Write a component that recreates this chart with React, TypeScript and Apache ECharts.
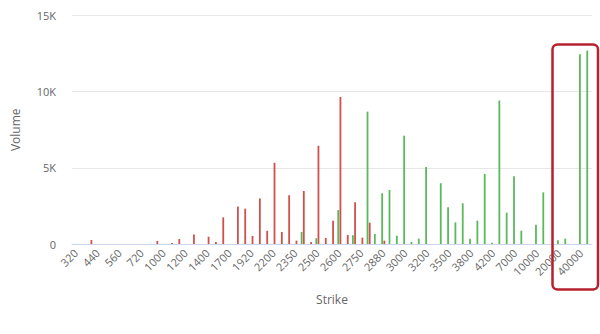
import React, { useEffect, useRef } from "react";
import * as echarts from "echarts";

const strikes = [
  "320", "360", "400", "440", "480", "520", "560", "600", "640", "720",
  "800", "900", "1000", "1100", "1150", "1200", "1300", "1350", "1400", "1500",
  "1600", "1700", "1800", "1900", "1920", "2000", "2100", "2200", "2250", "2300",
  "2350", "2400", "2450", "2500", "2550", "2580", "2600", "2650", "2700", "2750",
  "2800", "2850", "2880", "2900", "2950", "3000", "3100", "3150", "3200", "3300",
  "3400", "3500", "3600", "3700", "3800", "4000", "4100", "4200", "5000", "6000",
  "7000", "8000", "9000", "10000", "12000", "15000", "20000", "25000", "30000", "40000",
  "50000",
];

const callsVolume = [
  0, 0, 0, 0, 0, 0, 0, 0, 0, 0,
  0, 0, 0, 0, 0, 0, 0, 0, 0, 0,
  0, 0, 0, 0, 0, 0, 0, 0, 0, 0,
  0, 790, 0, 380, 0, 0, 2230, 0, 580, 0,
  8690, 660, 3330, 3550, 545, 7110, 130, 350, 5060, 0,
  3990, 2410, 1420, 2670, 350, 1530, 4600, 80, 9420, 2060,
  4440, 875, 0, 1270, 3390, 0, 240, 350, 0, 12460,
  12700,
];

const putsVolume = [
  0, 0, 260, 0, 0, 0, 0, 0, 0, 0,
  0, 200, 0, 65, 330, 0, 620, 0, 480, 130,
  1750, 0, 2460, 2320, 530, 2990, 870, 5330, 790, 3200,
  220, 3480, 130, 6450, 400, 1520, 9650, 590, 2740, 415,
  1400, 0, 220, 0, 0, 0, 0, 0, 0, 0,
  0, 0, 0, 0, 0, 0, 0, 0, 0, 0,
  0, 0, 0, 0, 0, 0, 0, 0, 0, 0,
  0,
];

const yTicks = { min: 0, max: 15000, interval: 5000 };

export default function App() {
  const ref = useRef<HTMLDivElement>(null);
  useEffect(() => {
    if (!ref.current) return;
    const chart = echarts.init(ref.current, null, { renderer: "svg" });
    const font = "'Open Sans', 'Noto Sans', sans-serif";
    chart.setOption({
      animation: false,
      textStyle: { fontFamily: font },
      grid: { left: 72, right: 8, top: 15.5, bottom: 90, containLabel: false },
      legend: {
        top: 329,
        left: "center",
        icon: "circle",
        itemWidth: 12,
        itemHeight: 12,
        itemGap: 30,
        textStyle: { fontSize: 12, fontWeight: "bold", color: "#333", fontFamily: font },
        data: ["Calls", "Puts"],
      },
      xAxis: {
        type: "category",
        data: strikes,
        name: "Strike",
        nameLocation: "middle",
        nameGap: 49,
        nameTextStyle: { fontSize: 12, color: "#666", fontFamily: font },
        axisLine: { lineStyle: { color: "#ccd6eb" } },
        axisTick: { show: false },
        axisLabel: {
          interval: 2,
          rotate: 45,
          fontSize: 11,
          color: "#666",
          margin: 7,
          fontFamily: font,
        },
      },
      yAxis: {
        type: "value",
        min: yTicks.min,
        max: yTicks.max,
        interval: yTicks.interval,
        name: "Volume",
        nameLocation: "middle",
        nameGap: 51,
        nameRotate: 90,
        nameTextStyle: { fontSize: 12, color: "#666", fontFamily: font },
        axisLine: { show: false },
        axisTick: { show: false },
        splitLine: { lineStyle: { color: "#e6e6e6" } },
        axisLabel: {
          fontSize: 11,
          color: "#666",
          margin: 16,
          fontFamily: font,
          formatter: (v: number) => (v === 0 ? "0" : v / 1000 + "K"),
        },
      },
      series: [
        {
          name: "Calls",
          type: "bar",
          data: callsVolume,
          barWidth: 1.8,
          barGap: "22%",
          itemStyle: { color: "#5cb85c" },
        },
        {
          name: "Puts",
          type: "bar",
          data: putsVolume,
          barWidth: 1.8,
          barGap: "22%",
          itemStyle: { color: "#d0504c" },
        },
      ],
      graphic: [
        {
          type: "rect",
          shape: { x: 552.5, y: 44.5, width: 45.5, height: 245, r: 5 },
          style: { fill: "none", stroke: "#b8202f", lineWidth: 2.5 },
          z: 100,
        },
      ],
    });
    return () => chart.dispose();
  }, []);
  return (
    <div
      ref={ref}
      style={{ position: "fixed", left: 0, top: 0, width: 600, height: 334, background: "#fff" }}
    />
  );
}
